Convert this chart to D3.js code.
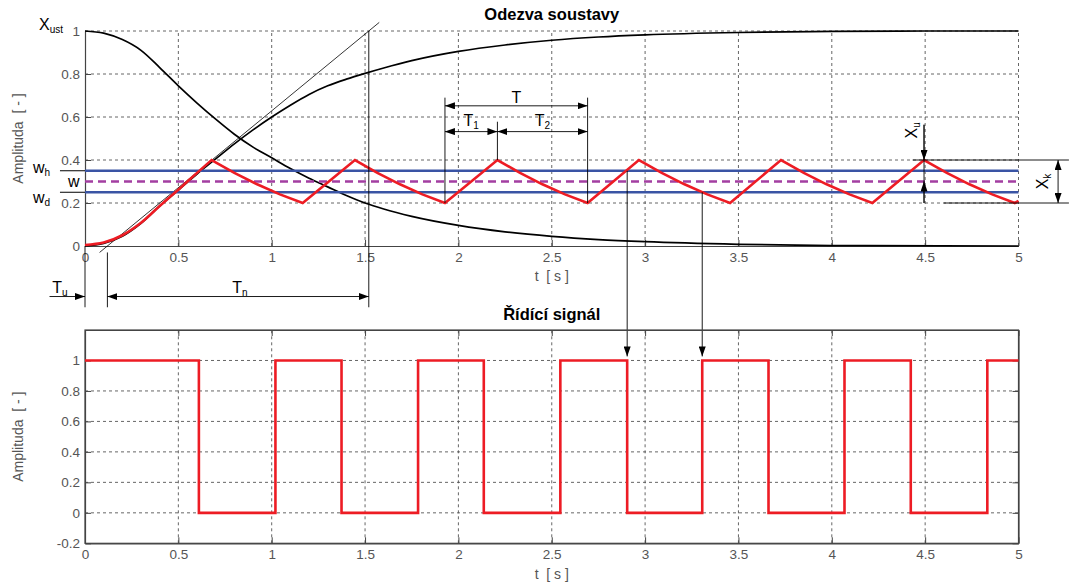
<!DOCTYPE html>
<html><head><meta charset="utf-8">
<script src="https://cdn.jsdelivr.net/npm/d3@7"></script>
<style>
body{margin:0;background:#fff}
text{font-family:"Liberation Sans",Arial,Helvetica,sans-serif}
</style>
</head><body>
<svg id="c" width="1070" height="585"></svg>
<script>
// ---------- data ----------
const xTicks=[0,0.5,1,1.5,2,2.5,3,3.5,4,4.5,5];
const yTicksTop=[0,0.2,0.4,0.6,0.8,1];
const yTicksBot=[-0.2,0,0.2,0.4,0.6,0.8,1];

// step response of the plant (rising) and complementary curve (falling)
const riseT=[0,0.1,0.2,0.3,0.4,0.5,0.6,0.7,0.8,0.9,1.0,1.1,1.2,1.3,1.4,1.5,1.6,1.75,2.0,2.25,2.5,2.75,3.0,3.5,4.0,4.5,5.0];
const riseY=[0,0.012,0.045,0.105,0.185,0.26,0.335,0.405,0.475,0.54,0.6,0.655,0.705,0.745,0.776,0.803,0.828,0.862,0.905,0.935,0.957,0.972,0.982,0.993,0.998,1.0,1.0];
const fallT=[0,0.1,0.2,0.3,0.4,0.5,0.6,0.7,0.8,0.9,1.0,1.1,1.2,1.3,1.4,1.5,1.6,1.75,2.0,2.25,2.5,2.75,3.0,3.5,4.0,5.0];
const fallY=[1,0.99,0.96,0.91,0.83,0.745,0.665,0.59,0.52,0.46,0.41,0.36,0.315,0.275,0.235,0.2,0.172,0.138,0.096,0.066,0.045,0.03,0.02,0.008,0.002,0];

// controlled output: initial (smooth) rise up to the first peak ...
const respRiseT=[0,0.1,0.2,0.3,0.4,0.5,0.6,0.678];
const respRiseY=[0.005,0.016,0.05,0.108,0.186,0.262,0.34,0.4];
// ... then the on/off oscillation (peak 0.4, trough 0.2)
const respT=[0.678,0.8,0.922,1.044,1.166,1.446,1.566,1.687,1.807,1.928,2.209,2.33,2.45,2.571,2.692,
             2.967,3.089,3.211,3.333,3.455,3.728,3.85,3.972,4.095,4.217,4.494,4.616,4.737,4.859,4.98,5.0];
const respY=[0.4,0.34,0.287,0.24,0.2,0.4,0.34,0.287,0.24,0.2,0.4,0.34,0.287,0.24,0.2,
             0.4,0.34,0.287,0.24,0.2,0.4,0.34,0.287,0.24,0.2,0.4,0.34,0.287,0.24,0.2,0.21];

// control signal switching instants
const ctrlT=[0,0.61,1.02,1.374,1.784,2.136,2.546,2.904,3.306,3.661,4.068,4.423,4.833,5];
const ctrlY=[1,0,1,0,1,0,1,0,1,0,1,0,1,1];

// levels
const wH=0.35, wMid=0.3, wD=0.25, xUst=1;
const Tu=0.12, Tn=1.4;
const tA=1.928, tP=2.209, tB=2.692;   // T, T1, T2 marks
const tSwOff=2.904, tSwOn=3.306;      // switching arrows
const tXu=4.494, peakY=0.4, troughY=0.2;

// ---------- scales ----------
const svg=d3.select('#c');
const x=d3.scaleLinear().domain([0,5]).range([85,1018.5]);
const yT=d3.scaleLinear().domain([0,1]).range([246,31]);
const yB=d3.scaleLinear().domain([-0.2,1.2]).range([543.3,330]);

const AX='#444', GRID='#555', LBL='#555';
const RED='#ed1c24', BLUE='#3a54a4', PURP='#a33ea1';

// arrow marker
const defs=svg.append('defs');
defs.append('marker').attr('id','ah').attr('viewBox','0 0 10 7')
 .attr('markerWidth',10).attr('markerHeight',7).attr('refX',10).attr('refY',3.5)
 .attr('markerUnits','userSpaceOnUse').attr('orient','auto-start-reverse')
 .append('path').attr('d','M0,0L10,3.5L0,7Z').attr('fill','#000');

function grid(g,ys,xs,yScale){
  xs.forEach(t=>g.append('line').attr('x1',x(t)).attr('x2',x(t))
    .attr('y1',yScale.range()[0]).attr('y2',yScale.range()[1])
    .attr('stroke',GRID).attr('stroke-width',0.9).attr('stroke-dasharray','3,3'));
  ys.forEach(v=>g.append('line').attr('x1',x(0)).attr('x2',x(5))
    .attr('y1',yScale(v)).attr('y2',yScale(v))
    .attr('stroke',GRID).attr('stroke-width',0.9).attr('stroke-dasharray','3,3'));
}
function styleAxis(g){
  g.selectAll('path.domain').attr('stroke',AX).attr('stroke-width',1.2);
  g.selectAll('.tick line').attr('stroke',AX);
  g.selectAll('.tick text').attr('fill',LBL).style('font-size','13.5px')
   .style('font-family','"Liberation Sans",Arial,sans-serif');
}

// ---------- TOP PLOT ----------
const gTop=svg.append('g');
grid(gTop,[0.2,0.4,0.6,0.8,1],[0.5,1,1.5,2,2.5,3,3.5,4,4.5,5],yT);

gTop.append('g').attr('transform',`translate(0,${yT(0)})`)
 .call(d3.axisBottom(x).tickValues(xTicks).tickFormat(d=>String(d)).tickSizeInner(-6).tickSizeOuter(0).tickPadding(6))
 .call(styleAxis);
gTop.append('g').attr('transform',`translate(${x(0)},0)`)
 .call(d3.axisLeft(yT).tickValues(yTicksTop).tickFormat(d=>String(d)).tickSizeInner(-6).tickSizeOuter(0).tickPadding(5))
 .call(styleAxis);

const lineT=d3.line().x(d=>x(d[0])).y(d=>yT(d[1]));
const smoothT=d3.line().x(d=>x(d[0])).y(d=>yT(d[1])).curve(d3.curveMonotoneX);

gTop.append('path').attr('d',smoothT(riseT.map((t,i)=>[t,riseY[i]])))
 .attr('fill','none').attr('stroke','#000').attr('stroke-width',1.7);
gTop.append('path').attr('d',smoothT(fallT.map((t,i)=>[t,fallY[i]])))
 .attr('fill','none').attr('stroke','#000').attr('stroke-width',1.7);

// tangent
gTop.append('path').attr('d',lineT([[Tu+Tn*(-0.03),-0.03],[Tu+Tn*1.04,1.04]]))
 .attr('stroke','#000').attr('stroke-width',0.8).attr('fill','none');

// hysteresis levels
[wH,wD].forEach(v=>gTop.append('path').attr('d',lineT([[0,v],[5,v]]))
 .attr('stroke',BLUE).attr('stroke-width',2.6).attr('fill','none'));
gTop.append('path').attr('d',lineT([[0,wMid],[5,wMid]]))
 .attr('stroke',PURP).attr('stroke-width',2.6).attr('stroke-dasharray','8,5').attr('fill','none');

// response: smooth initial rise joined to the linear oscillation
const dRise=smoothT(respRiseT.map((t,i)=>[t,respRiseY[i]]));
const dOsc=lineT(respT.map((t,i)=>[t,respY[i]])).replace(/^M/,'L');
gTop.append('path').attr('d',dRise+dOsc)
 .attr('fill','none').attr('stroke',RED).attr('stroke-width',2.6).attr('stroke-linejoin','miter');

// ---------- annotations (top) ----------
const ann=svg.append('g').attr('stroke','#000').attr('fill','none');
function seg(t1,v1,t2,v2,w,m1,m2){
  const p=ann.append('line').attr('x1',x(t1)).attr('y1',yT(v1)).attr('x2',x(t2)).attr('y2',yT(v2))
    .attr('stroke-width',w||0.9);
  if(m1) p.attr('marker-start','url(#ah)');
  if(m2) p.attr('marker-end','url(#ah)');
  return p;
}
// Tu / Tn
seg(0,0,0,-0.285);
seg(Tu,-0.03,Tu,-0.285);
seg(Tu+Tn,xUst,Tu+Tn,-0.285);
seg(-0.19,-0.235,0,-0.235,0.9,false,true);
seg(Tu,-0.235,Tu+Tn,-0.235,0.9,true,true);
// small level ticks for w_h, w_d
seg(-0.134,wH,0,wH,1);
seg(-0.134,wD,0,wD,1);
// T, T1, T2
seg(tA,0.69,tA,troughY);
seg(tB,0.69,tB,troughY);
seg(tP,0.578,tP,peakY);
seg(tA,0.652,tB,0.652,0.9,true,true);
seg(tA,0.532,tP,0.532,0.9,true,true);
seg(tP,0.532,tB,0.532,0.9,true,true);
// Xu
seg(tXu,0.564,tXu,troughY);
seg(tXu,0.564,tXu,peakY,0.9,false,true);
seg(tXu,troughY,tXu,wMid,0.9,false,true);
// Xk
seg(4.433,peakY,5.27,peakY);
seg(4.6,troughY,5.27,troughY);
seg(5.212,peakY,5.212,troughY,0.9,true,true);

// switching arrows from top plot down to control signal
[[tSwOff,wH],[tSwOn,wD]].forEach(([t,v])=>{
  ann.append('line').attr('x1',x(t)).attr('x2',x(t)).attr('y1',yT(v)).attr('y2',yB(1)-4)
   .attr('stroke-width',0.9).attr('marker-end','url(#ah)');
});

// ---------- text ----------
const tx=svg.append('g').attr('fill','#000');
function sub(xp,yp,main,s,size,anchor,rot){
  const t=tx.append('text').attr('text-anchor',anchor||'start').style('font-size',(size||16)+'px');
  if(rot){t.attr('transform',`translate(${xp},${yp}) rotate(-90)`);}
  else t.attr('x',xp).attr('y',yp);
  t.append('tspan').text(main);
  t.append('tspan').attr('dy',3).style('font-size',Math.round((size||16)*0.65)+'px').text(s);
  return t;
}
sub(39,30,'X','ust',16);
sub(33,173,'w','h',16);
tx.append('text').attr('x',68).attr('y',187).style('font-size','16px').text('w');
sub(33,203,'w','d',16);
sub(x(-0.175),yT(-0.219),'T','u',16);
sub(x(0.83),yT(-0.219),'T','n',16,'middle');
tx.append('text').attr('x',x((tA+tB)/2)).attr('y',yT(0.665)).attr('text-anchor','middle').style('font-size','16px').text('T');
sub(x((tA+tP)/2),yT(0.56),'T','1',16,'middle');
sub(x((tP+tB)/2),yT(0.56),'T','2',16,'middle');
sub(x(tXu)-7,yT(0.538),'X','u',16,'middle',true);
sub(x(5.125)+6,yT(0.3),'X','k',16,'middle',true);

// titles & axis labels
svg.append('text').attr('x',x(2.5)).attr('y',20).attr('text-anchor','middle')
 .style('font-size','16.5px').style('font-weight','bold').text('Odezva soustavy');
svg.append('text').attr('x',x(2.5)).attr('y',320).attr('text-anchor','middle')
 .style('font-size','16.5px').style('font-weight','bold').text('Řídící signál');
svg.append('text').attr('x',x(2.5)).attr('y',281).attr('text-anchor','middle').attr('fill',LBL)
 .style('font-size','14px').attr('xml:space','preserve').text('t  [ s ]');
svg.append('text').attr('x',x(2.5)).attr('y',579).attr('text-anchor','middle').attr('fill',LBL)
 .style('font-size','14px').attr('xml:space','preserve').text('t  [ s ]');
[[ (yT(0)+yT(1))/2 ],[ (yB(-0.2)+yB(1.2))/2 ]].forEach(([cy])=>{
  svg.append('text').attr('transform',`translate(23,${cy}) rotate(-90)`).attr('text-anchor','middle')
   .attr('fill',LBL).style('font-size','14px').attr('xml:space','preserve').text('Amplituda  [ - ]');
});

// ---------- BOTTOM PLOT ----------
const bot=svg.append('g');
grid(bot,[0,0.2,0.4,0.6,0.8,1],[0.5,1,1.5,2,2.5,3,3.5,4,4.5],yB);
bot.append('rect').attr('x',x(0)).attr('y',yB(1.2)).attr('width',x(5)-x(0)).attr('height',yB(-0.2)-yB(1.2))
 .attr('fill','none').attr('stroke',AX).attr('stroke-width',1.2);
bot.append('g').attr('transform',`translate(0,${yB(-0.2)})`)
 .call(d3.axisBottom(x).tickValues(xTicks).tickFormat(d=>String(d)).tickSizeInner(-6).tickSizeOuter(0).tickPadding(6))
 .call(styleAxis);
bot.append('g').attr('transform',`translate(0,${yB(1.2)})`)
 .call(d3.axisTop(x).tickValues(xTicks).tickFormat('').tickSizeInner(-6).tickSizeOuter(0))
 .call(styleAxis);
bot.append('g').attr('transform',`translate(${x(0)},0)`)
 .call(d3.axisLeft(yB).tickValues(yTicksBot).tickFormat(d=>String(d)).tickSizeInner(-6).tickSizeOuter(0).tickPadding(5))
 .call(styleAxis);
bot.append('g').attr('transform',`translate(${x(5)},0)`)
 .call(d3.axisRight(yB).tickValues(yTicksBot).tickFormat('').tickSizeInner(-6).tickSizeOuter(0))
 .call(styleAxis);

const stepB=d3.line().x(d=>x(d[0])).y(d=>yB(d[1])).curve(d3.curveStepAfter);
bot.append('path').attr('d',stepB(ctrlT.map((t,i)=>[t,ctrlY[i]])))
 .attr('fill','none').attr('stroke',RED).attr('stroke-width',2.6);
</script>
</body></html>
